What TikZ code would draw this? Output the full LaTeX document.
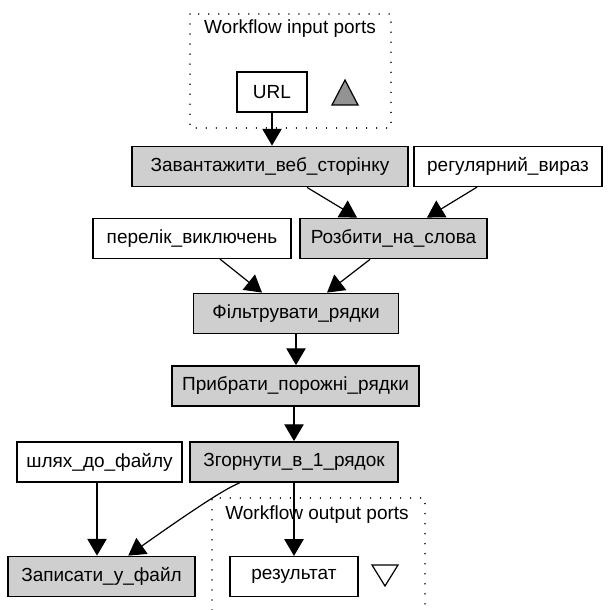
\documentclass[tikz,border=0pt]{standalone}
\usepackage{fontspec}
\setmainfont{Liberation Sans}
\usetikzlibrary{arrows.meta}
\begin{document}
\begin{tikzpicture}[x=0.5pt,y=0.5pt,
    font=\fontsize{9.5}{11}\selectfont,
    proc/.style={draw,fill=lightgray!75,line width=0.9pt,minimum height=20pt,inner sep=2pt},
    port/.style={draw,fill=white,line width=0.6pt,minimum height=20pt,inner sep=2pt},
    flow/.style={-{Triangle[scale=2]},line width=0.6pt},
    ports/.style={line width=0.7pt,dash pattern=on 0.01pt off 5pt,line cap=round}]
    \useasboundingbox (0,0) rectangle (610,-610);

    %input ports
    \draw[ports] (190,-14) rectangle (391,-128);
    \node (inlabel) at (290,-29) {Workflow input ports};
    \node[port,minimum width=35pt] (url) at (272,-92) {URL};
    \draw[fill=gray!85,line width=0.6pt] (332,-105) -- (358,-105) -- (345,-80) -- cycle;

    %processors
    \node[proc,minimum width=138pt] (load) at (270,-166.5) {Завантажити\_веб\_сторінку};
    \node[port,minimum width=94pt] (regex) at (508,-166.5) {регулярний\_вираз};
    \node[port,minimum width=99pt] (exclude) at (192,-238.5) {перелік\_виключень};
    \node[proc,minimum width=93.5pt] (split) at (393.5,-238.5) {Розбити\_на\_слова};
    \node[proc,minimum width=102.5pt] (filter) at (296,-313.5) {Фільтрувати\_рядки};
    \node[proc,minimum width=123.5pt] (clean) at (295.5,-386) {Прибрати\_порожні\_рядки};
    \node[proc,minimum width=104pt] (join) at (294,-462) {Згорнути\_в\_1\_рядок};
    \node[port,minimum width=82.5pt] (path) at (99.5,-462) {шлях\_до\_файлу};
    \node[proc,minimum width=93.5pt] (write) at (101.5,-576.5) {Записати\_у\_файл};

    %output ports
    \draw[ports] (212,-610) -- (212,-498) -- (425,-498) -- (425,-610);
    \node (outlabel) at (317,-515) {Workflow output ports};
    \node[port,minimum width=64pt] (result) at (294,-576.5) {результат};
    \draw[fill=white,line width=0.6pt] (372,-565) -- (398,-565) -- (385,-586) -- cycle;

    %links
    \draw[flow] (url) -- (url |- load.north);
    \draw[flow] (load.south -| 307,0) -- (split.north -| 357,0);
    \draw[flow] (regex.south -| 477,0) -- (split.north -| 427,0);
    \draw[flow] (exclude.south -| 220,0) -- (filter.north -| 262,0);
    \draw[flow] (split.south -| 370,0) -- (filter.north -| 327,0);
    \draw[flow] (filter) -- (filter |- clean.north);
    \draw[flow] (clean.south -| 294,0) -- (join);
    \draw[flow] (path.south -| 97,0) -- (write.north -| 97,0);
    \draw[flow] (join.201) .. controls (230,-487) and (214,-495) .. (write.38);
    \draw[flow] (join) -- (result);
\end{tikzpicture}
\end{document}
